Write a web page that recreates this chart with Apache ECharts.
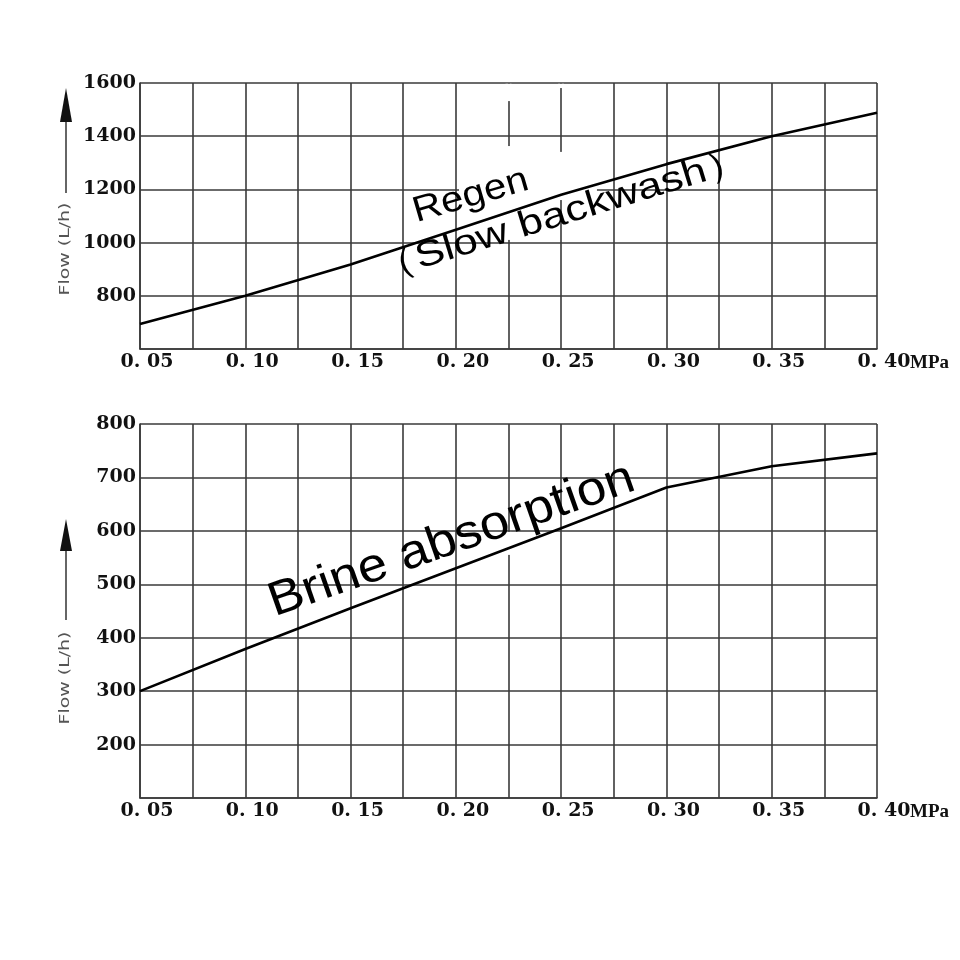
<!DOCTYPE html>
<html><head><meta charset="utf-8">
<script src="https://cdn.jsdelivr.net/npm/echarts@6/dist/echarts.min.js"></script>
<style>html,body{margin:0;background:#fff}#c{width:960px;height:960px}</style>
</head><body><div id="c"></div>
<script>
// ---- data ----
const pressure   = [0.05, 0.10, 0.15, 0.20, 0.25, 0.30, 0.35, 0.40];
const regenFlow  = [694, 800, 918, 1048, 1180, 1295, 1400, 1488];
const brineFlow  = [300, 379, 455, 530, 605, 681, 721, 745];
const xTickLabels = ['0. 05','0. 10','0. 15','0. 20','0. 25','0. 30','0. 35','0. 40'];
const xUnit = 'MPa';
const yName = 'Flow (L/h)';
const regenLabel1 = 'Regen';
const regenLabel2 = '（Slow backwash）';
const brineLabel = 'Brine absorption';

const GRID = '#3a3a3a';
const labelFont = {fontFamily:'DejaVu Serif', fontWeight:'bold', fontSize:19, color:'#111'};

function xFmt(v){
  const k = v*20;
  if (Math.abs(k - Math.round(k)) < 1e-6) {
    const i = Math.round(k) - 1;
    return xTickLabels[i] !== undefined ? xTickLabels[i] : '';
  }
  return '';
}
function xAxis(gi){
  return {
    type:'value', gridIndex:gi, min:0.05, max:0.40, interval:0.025,
    axisLine:{show:true, lineStyle:{color:GRID, width:1.6}},
    axisTick:{show:false},
    splitLine:{show:true, lineStyle:{color:GRID, width:1.6}},
    axisLabel:Object.assign({formatter:xFmt, margin:4, padding:[0,0,0,14], showMinLabel:true, showMaxLabel:true}, labelFont)
  };
}
function yAxis(gi, min, max, interval){
  return {
    type:'value', gridIndex:gi, min:min, max:max, interval:interval,
    axisLine:{show:true, lineStyle:{color:GRID, width:1.6}},
    axisTick:{show:false},
    splitLine:{show:true, lineStyle:{color:GRID, width:1.6}},
    axisLabel:Object.assign({formatter:function(v){return v===min?'':String(v);}, margin:4, showMaxLabel:true}, labelFont)
  };
}

const chart = echarts.init(document.getElementById('c'), null, {renderer:'canvas'});
chart.setOption({
  backgroundColor:'#fff',
  animation:false,
  grid:[
    {left:140, right:83, top:83, height:266, containLabel:false},
    {left:140, right:83, top:424, height:374, containLabel:false}
  ],
  xAxis:[xAxis(0), xAxis(1)],
  yAxis:[yAxis(0, 600, 1600, 200), yAxis(1, 100, 800, 100)],
  series:[
    {type:'line', xAxisIndex:0, yAxisIndex:0, data:pressure.map((p,i)=>[p, regenFlow[i]]),
     symbol:'none', lineStyle:{color:'#000', width:2.6}, z:5},
    {type:'line', xAxisIndex:1, yAxisIndex:1, data:pressure.map((p,i)=>[p, brineFlow[i]]),
     symbol:'none', lineStyle:{color:'#000', width:2.6}, z:5}
  ]
});

function P(gi, pt){ return chart.convertToPixel({gridIndex:gi}, pt); }
const a1 = P(0, [0.207, 1175]);
const a2 = P(0, [0.250, 1104]);
const a3 = P(1, [0.198, 582]);
const u0 = P(0, [0.40, 600]);
const u1 = P(1, [0.40, 100]);

// white-out patches behind the hand-placed labels (as in the scanned original)
function vGap(gi, xv, yTopV, yBotV){
  const t = P(gi, [xv, yTopV]), b = P(gi, [xv, yBotV]);
  return {type:'rect', z:1, shape:{x:t[0]-3, y:t[1], width:6, height:b[1]-t[1]}, style:{fill:'#fff'}};
}
function hGap(gi, yv, xLV, xRV){
  const l = P(gi, [xLV, yv]), r = P(gi, [xRV, yv]);
  return {type:'rect', z:1, shape:{x:l[0], y:l[1]-3, width:r[0]-l[0], height:6}, style:{fill:'#fff'}};
}

function flowLabel(cx, cy){
  return {type:'text', x:cx, y:cy, rotation:Math.PI/2, scaleX:1.35, z:50,
    style:{text:yName, fontFamily:'DejaVu Sans', fontSize:14, fill:'#555',
      align:'center', verticalAlign:'middle', textAlign:'center', textVerticalAlign:'middle'}};
}
function arrow(x, yTop, yHeadBase, yBottom){
  return [
    {type:'line', z:50, shape:{x1:x, y1:yBottom, x2:x, y2:yHeadBase}, style:{stroke:'#333', lineWidth:1.5}},
    {type:'polygon', z:50, shape:{points:[[x, yTop],[x-6, yHeadBase],[x+6, yHeadBase]]}, style:{fill:'#111'}}
  ];
}
function unitLabel(p){
  return {type:'text', x:p[0]+33, y:p[1]+14, z:50,
    style:{text:xUnit, fontFamily:'Liberation Serif', fontWeight:'bold', fontSize:19, fill:'#111',
      align:'left', verticalAlign:'middle', textAlign:'left', textVerticalAlign:'middle'}};
}

chart.setOption({
  graphic:[
    vGap(0, 0.225, 1597, 1532),
    vGap(0, 0.225, 1363, 1010),
    vGap(0, 0.25, 1597, 1581),
    vGap(0, 0.25, 1341, 1160),
    hGap(0, 1200, 0.2015, 0.267),
    vGap(1, 0.225, 598, 555),
    flowLabel(65, 249),
    ...arrow(66, 88, 122, 193),
    flowLabel(65, 678),
    ...arrow(66, 519, 551, 620),
    unitLabel(u0),
    unitLabel(u1),
    {type:'text', x:a1[0], y:a1[1], rotation:0.285, scaleX:1.12, z:60,
      style:{text:regenLabel1, fontFamily:'Liberation Sans', fontSize:36, fill:'#000',
        align:'center', verticalAlign:'middle', textAlign:'center', textVerticalAlign:'middle'}},
    {type:'text', x:a2[0], y:a2[1], rotation:0.297, scaleX:1.22, z:60,
      style:{text:regenLabel2, fontFamily:'Liberation Sans', fontSize:36, fill:'#000',
        align:'center', verticalAlign:'middle', textAlign:'center', textVerticalAlign:'middle'}},
    {type:'text', x:a3[0], y:a3[1], rotation:0.337, scaleX:1.1, z:60,
      style:{text:brineLabel, fontFamily:'Liberation Sans', fontSize:48, fill:'#000',
        align:'center', verticalAlign:'middle', textAlign:'center', textVerticalAlign:'middle'}}
  ]
});
</script>
</body></html>
